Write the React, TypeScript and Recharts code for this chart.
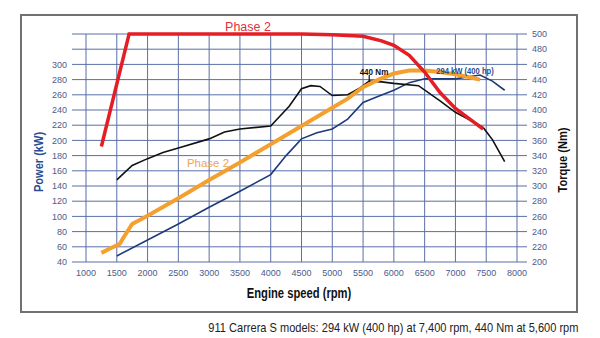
import React from "react";
import { LineChart, Line, XAxis, YAxis, CartesianGrid, ReferenceLine } from "recharts";

// rpm ticks and axis ticks
const rpmTicks = [1000, 1500, 2000, 2500, 3000, 3500, 4000, 4500, 5000, 5500, 6000, 6500, 7000, 7500, 8000];
const kwTicks = [40, 60, 80, 100, 120, 140, 160, 180, 200, 220, 240, 260, 280, 300, 320, 340];
const nmTicks = [200, 220, 240, 260, 280, 300, 320, 340, 360, 380, 400, 420, 440, 460, 480, 500];

// Phase 2 torque (Nm) - red
const redRpm = [1250, 1700, 2000, 2500, 3000, 3500, 4000, 4500, 5000, 5500, 5800, 6000, 6250, 6500, 6750, 7000, 7250, 7450];
const redNm = [352, 500, 500, 500, 500, 500, 500, 500, 499, 497, 491, 485, 472, 450, 423, 402, 387, 375];

// torque (Nm) - black
const blackRpm = [1500, 1750, 2000, 2250, 2500, 3000, 3250, 3500, 4000, 4300, 4500, 4650, 4800, 5000, 5250, 5450, 5600, 5800, 6000, 6400, 6750, 7000, 7250, 7450, 7600, 7800];
const blackNm = [308, 327, 336, 344, 350, 362, 371, 375, 379, 405, 428, 432, 431, 419, 420, 429, 438, 437, 435, 432, 412, 397, 386, 377, 361, 332];

// power (kW) - blue
const blueRpm = [1500, 2000, 2500, 3000, 3500, 4000, 4250, 4500, 4750, 5000, 5250, 5500, 5750, 6000, 6250, 6500, 7000, 7400, 7600, 7800];
const blueKw = [48, 69, 90, 112, 133, 155, 180, 202, 210, 215, 228, 250, 258, 266, 276, 281, 281, 286, 278, 266];

// Phase 2 power (kW) - orange
const orangeRpm = [1250, 1400, 1550, 1600, 1750, 2000, 2500, 3000, 3500, 4000, 4500, 5000, 5250, 5500, 5750, 6000, 6250, 6500, 6750, 7000, 7400];
const orangeKw = [52, 58, 64, 71, 90, 101, 124, 148, 171, 195, 219, 243, 255, 270, 280, 288, 292, 292, 290, 287, 280];

const zip = (xs: number[], ys: number[]) => xs.map((rpm, i) => ({ rpm, v: ys[i] }));

const GRID = "#5b6fa6";
const FONT = "'Liberation Sans', Arial, sans-serif";
const tickStyle = { fontSize: 9, fill: "#4b5b8c", fontFamily: FONT };

export default function App() {
  return (
    <div style={{ position: "absolute", left: 0, top: 0, width: 600, height: 338, background: "#fff", fontFamily: FONT }}>
      <div
        style={{
          position: "absolute",
          left: 20,
          top: 14,
          width: 558,
          height: 299,
          border: "2px solid #717171",
          boxSizing: "border-box",
        }}
      />
      <LineChart width={600} height={338} margin={{ top: 34, right: 20, bottom: 56, left: 20 }}>
        <CartesianGrid yAxisId="kw" stroke={GRID} strokeWidth={1} />
        <XAxis
          dataKey="rpm"
          type="number"
          domain={[1000, 8000]}
          ticks={rpmTicks}
          interval={0}
          allowDataOverflow
          axisLine={false}
          tickLine={false}
          tickSize={6}
          tickMargin={2}
          height={20}
          tick={tickStyle}
        />
        <YAxis
          yAxisId="kw"
          orientation="left"
          domain={[40, 340]}
          ticks={kwTicks}
          interval={0}
          width={66}
          axisLine={false}
          tickLine={{ stroke: GRID }}
          tickSize={14}
          tickMargin={5}
          tick={tickStyle}
          tickFormatter={(v: number) => (v > 300 ? "" : String(v))}
        />
        <YAxis
          yAxisId="nm"
          orientation="right"
          domain={[200, 500]}
          ticks={nmTicks}
          interval={0}
          width={63}
          axisLine={false}
          tickLine={{ stroke: GRID }}
          tickSize={10}
          tickMargin={5}
          tick={tickStyle}
        />
        <Line yAxisId="kw" data={zip(blueRpm, blueKw)} dataKey="v" stroke="#1d3b7a" strokeWidth={1.6} dot={false} isAnimationActive={false} />
        <Line yAxisId="nm" data={zip(blackRpm, blackNm)} dataKey="v" stroke="#111111" strokeWidth={1.6} dot={false} isAnimationActive={false} />
        <Line yAxisId="kw" data={zip(orangeRpm, orangeKw)} dataKey="v" stroke="#f4a02e" strokeWidth={4} dot={false} isAnimationActive={false} />
        <Line yAxisId="nm" data={zip(redRpm, redNm)} dataKey="v" stroke="#e51d25" strokeWidth={3.5} dot={false} isAnimationActive={false} />
        <ReferenceLine yAxisId="nm" segment={[{ x: 5600, y: 438 }, { x: 5600, y: 446 }]} stroke="#111" strokeWidth={1.2} />
      </LineChart>

      <div style={{ position: "absolute", left: 248, top: 27, transform: "translate(-50%, -50%)", color: "#e0303a", fontSize: 12.5, whiteSpace: "nowrap" }}>Phase 2</div>
      <div style={{ position: "absolute", left: 208, top: 163, transform: "translate(-50%, -50%)", color: "#f2a448", fontSize: 11.5, whiteSpace: "nowrap" }}>Phase 2</div>
      <div style={{ position: "absolute", left: 374, top: 71, transform: "translate(-50%, -50%) scaleX(0.85)", color: "#111", fontSize: 9.5, fontWeight: "bold", whiteSpace: "nowrap" }}>440 Nm</div>
      <div style={{ position: "absolute", left: 465, top: 70, transform: "translate(-50%, -50%) scaleX(0.8)", color: "#2a4d8f", fontSize: 9.5, fontWeight: "bold", whiteSpace: "nowrap" }}>294 kW (400 hp)</div>

      <div
        style={{
          position: "absolute",
          left: 38,
          top: 162,
          transform: "translate(-50%, -50%) rotate(-90deg) scaleX(0.85)",
          color: "#2a4d8f",
          fontSize: 13,
          fontWeight: "bold",
          whiteSpace: "nowrap",
        }}
      >
        Power (kW)
      </div>
      <div
        style={{
          position: "absolute",
          left: 562,
          top: 160,
          transform: "translate(-50%, -50%) rotate(-90deg) scaleX(0.85)",
          color: "#111",
          fontSize: 13,
          fontWeight: "bold",
          whiteSpace: "nowrap",
        }}
      >
        Torque (Nm)
      </div>
      <div
        style={{
          position: "absolute",
          left: 299,
          top: 293,
          transform: "translate(-50%, -50%) scaleX(0.8)",
          color: "#111",
          fontSize: 14,
          fontWeight: "bold",
          whiteSpace: "nowrap",
        }}
      >
        Engine speed (rpm)
      </div>
      <div
        style={{
          position: "absolute",
          right: 22,
          top: 327,
          transform: "translateY(-50%) scaleX(0.85)",
          transformOrigin: "right center",
          color: "#222",
          fontSize: 13,
          whiteSpace: "nowrap",
        }}
      >
        911 Carrera S models: 294 kW (400 hp) at 7,400 rpm, 440 Nm at 5,600 rpm
      </div>
    </div>
  );
}
